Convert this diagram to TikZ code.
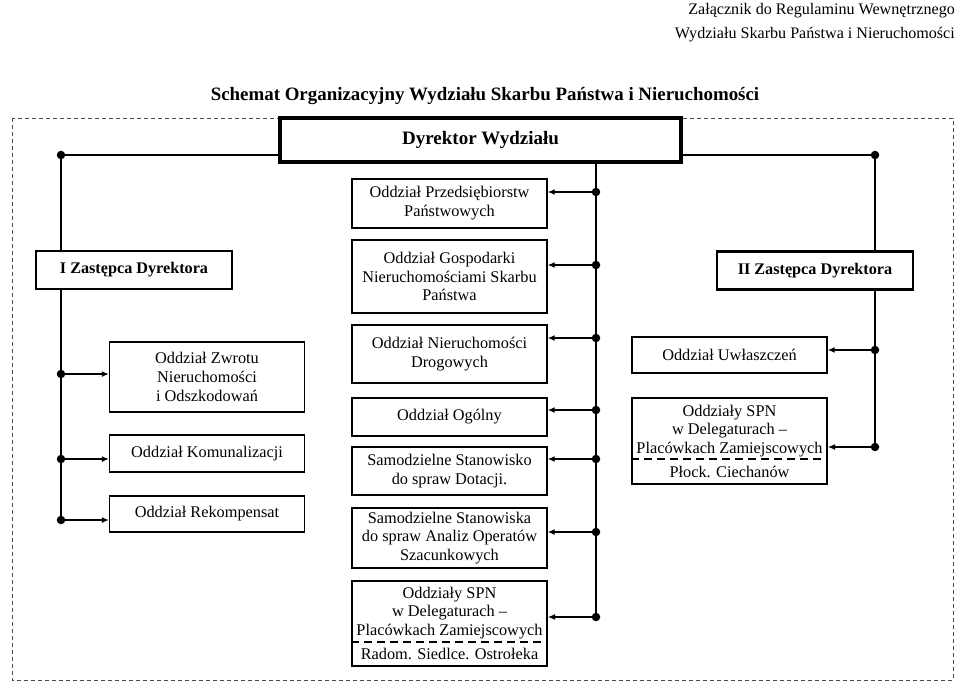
\documentclass[tikz,border=0pt]{standalone}
\usepackage{fontspec}
\setmainfont{Liberation Serif}
\usetikzlibrary{arrows.meta}

\begin{document}
\begin{tikzpicture}[x=1pt, y=-1pt, >={Latex[length=7pt,width=6pt]},
    txt/.style={align=center, inner sep=0pt, font=\fontsize{16.3}{18.8}\selectfont},
    box/.style={txt, draw, fill=white, line width=1.4pt, minimum width=195pt},
    headbox/.style={box, line width=2.8pt, font=\fontsize{16.2}{19}\selectfont\bfseries},
    spnbox/.style={box, line width=2pt},
    dot/.style={circle, fill, inner sep=0pt, minimum size=8.5pt},
    link/.style={line width=1.2pt},
    divider/.style={line width=1.6pt, dash pattern=on 8pt off 5pt},
    frame/.style={draw=black!70, line width=0.8pt, dash pattern=on 4pt off 3pt}]
  \useasboundingbox (0,0) rectangle (959,682);

  % headings
  \node[txt, anchor=east, font=\fontsize{16.1}{19}\selectfont] (annex1) at (955,11) {Załącznik do Regulaminu Wewnętrznego};
  \node[txt, anchor=east, font=\fontsize{16.1}{19}\selectfont] (annex2) at (955,35) {Wydziału Skarbu Państwa i Nieruchomości};
  \node[txt, font=\fontsize{18.9}{22}\selectfont\bfseries] (title) at (485,96)
       {Schemat Organizacyjny Wydziału Skarbu Państwa i Nieruchomości};

  % dashed frame
  \draw[frame] (12,118) rectangle (953,680);

  % management
  \node[headbox, line width=3.6pt, minimum width=401pt, minimum height=44pt,
        font=\fontsize{19}{22}\selectfont\bfseries] (dyr) at (480.5,140) {Dyrektor Wydziału};
  \node[headbox, minimum width=196pt, minimum height=38pt] (zI)  at (134,270) {I Zastępca Dyrektora};
  \node[headbox, minimum width=196pt, minimum height=38pt] (zII) at (815,270.5) {II Zastępca Dyrektora};

  % centre column
  \node[box, minimum height=49pt] (przed) at (449.5,203.5) {Oddział Przedsiębiorstw\\Państwowych};
  \node[box, minimum height=73pt] (gosp)  at (449.5,276.5) {Oddział Gospodarki\\Nieruchomościami Skarbu\\Państwa};
  \node[box, minimum height=58pt] (drog)  at (449.5,354) {Oddział Nieruchomości\\Drogowych};
  \node[box, minimum height=38pt] (ogol)  at (449.5,417) {Oddział Ogólny};
  \node[box, minimum height=48pt] (dot)   at (449.5,471) {Samodzielne Stanowisko\\do spraw Dotacji.};
  \node[box, minimum height=60pt] (anal)  at (449.5,538) {Samodzielne Stanowiska\\do spraw Analiz Operatów\\Szacunkowych};
  \node[spnbox, minimum height=85pt] (spnR) at (449.5,623.5) {};
  \node[txt] (spnRtxt)  at (449.5,613) {Oddziały SPN\\w Delegaturach –\\Placówkach Zamiejscowych};
  \node[txt] (spnRcity) at (449.5,654) {Radom. Siedlce. Ostrołeka};
  \coordinate (divR) at (449.5,642);
  \draw[divider] (spnR.west |- divR) -- (spnR.east |- divR);

  % left column
  \node[box, minimum height=70pt] (zwrot)  at (207,377) {Oddział Zwrotu\\Nieruchomości\\i Odszkodowań};
  \node[box, minimum height=37pt] (komun)  at (207,453.5) {Oddział Komunalizacji};
  \node[box, minimum height=36pt] (rekomp) at (207,514) {Oddział Rekompensat};

  % right column
  \node[box, minimum height=36pt] (uwl) at (729.5,355) {Oddział Uwłaszczeń};
  \node[spnbox, minimum height=86pt] (spnP) at (729.5,441) {};
  \node[txt] (spnPtxt)  at (729.5,431) {Oddziały SPN\\w Delegaturach –\\Placówkach Zamiejscowych};
  \node[txt] (spnPcity) at (729.5,472) {Płock. Ciechanów};
  \coordinate (divP) at (729.5,459);
  \draw[divider] (spnP.west |- divP) -- (spnP.east |- divP);

  % junction dots
  \foreach \n/\y in {dP/192, dG/265, dD/338, dO/410, dT/459, dA/532, dS/617}
    \node[dot] (\n) at (596,\y) {};
  \foreach \n/\y in {dL0/155, dZ/374, dK/459, dR/520}
    \node[dot] (\n) at (61,\y) {};
  \foreach \n/\y in {dR0/155, dU/350, dSP/447}
    \node[dot] (\n) at (875,\y) {};

  % trunks
  \draw[link] (dyr.south -| dS) -- (dS.center);
  \draw[link] (dyr.west |- dL0) -- (dL0.center) -- (zI.north -| dL0);
  \draw[link] (zI.south -| dR) -- (dR.center);
  \draw[link] (dyr.east |- dR0) -- (dR0.center) -- (zII.north -| dR0);
  \draw[link] (zII.south -| dSP) -- (dSP.center);

  % branches
  \foreach \d/\b in {dP/przed, dG/gosp, dD/drog, dO/ogol, dT/dot, dA/anal, dS/spnR, dU/uwl, dSP/spnP}
    \draw[link, ->] (\d) -- (\d -| \b.east);
  \foreach \d/\b in {dZ/zwrot, dK/komun, dR/rekomp}
    \draw[link, ->] (\d) -- (\d -| \b.west);
\end{tikzpicture}
\end{document}
